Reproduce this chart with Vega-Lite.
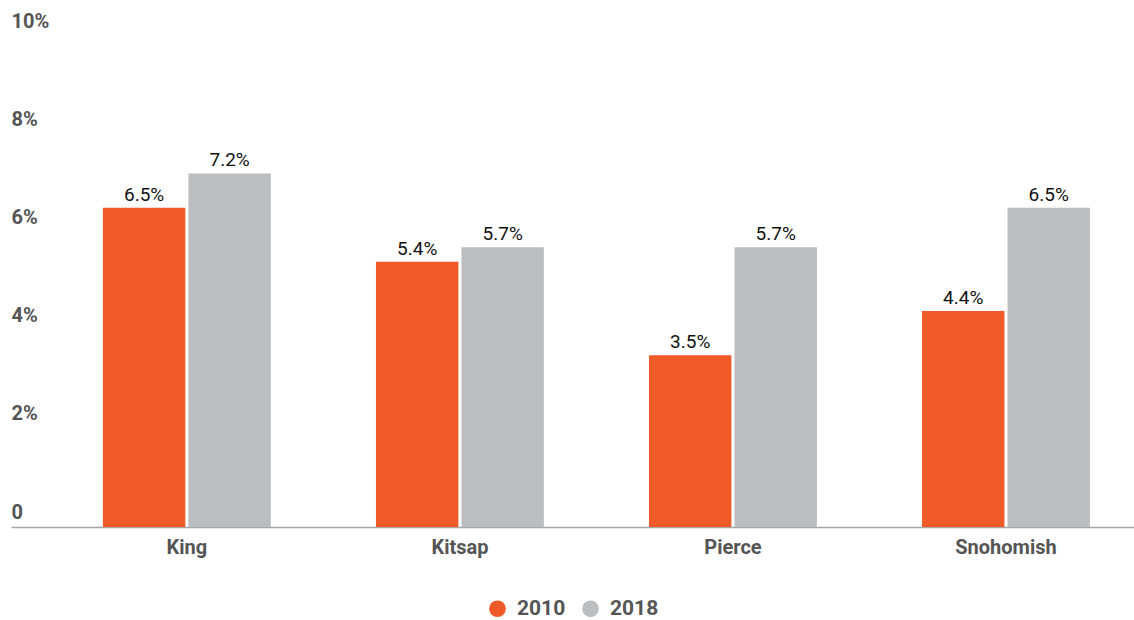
{
  "$schema": "https://vega.github.io/schema/vega-lite/v6.json",
  "width": 1123,
  "height": 491,
  "autosize": {"type": "none"},
  "padding": {"left": 11, "top": 36, "right": 0, "bottom": 93},
  "background": "white",
  "config": {
    "view": {"stroke": null},
    "font": "Roboto"
  },
  "data": {
    "values": [
      {"county": "King", "year": "2010", "value": 6.5},
      {"county": "King", "year": "2018", "value": 7.2},
      {"county": "Kitsap", "year": "2010", "value": 5.4},
      {"county": "Kitsap", "year": "2018", "value": 5.7},
      {"county": "Pierce", "year": "2010", "value": 3.5},
      {"county": "Pierce", "year": "2018", "value": 5.7},
      {"county": "Snohomish", "year": "2010", "value": 4.4},
      {"county": "Snohomish", "year": "2018", "value": 6.5}
    ]
  },
  "transform": [
    {"calculate": "format(datum.value, '.1f') + '%'", "as": "label"}
  ],
  "encoding": {
    "x": {
      "field": "county",
      "type": "nominal",
      "sort": null,
      "scale": {"paddingInner": 0.385, "paddingOuter": 0.249, "align": 0.676},
      "axis": {
        "title": null,
        "labelAngle": 0,
        "ticks": false,
        "labelPadding": 10,
        "labelFont": "Roboto",
        "labelFontWeight": "bold",
        "labelFontSize": 20,
        "labelColor": "#555555",
        "domainColor": "#a6a6a6",
        "domainWidth": 1.5
      }
    },
    "xOffset": {"field": "year", "type": "nominal", "scale": {"paddingInner": 0.036}},
    "y": {
      "field": "value",
      "type": "quantitative",
      "scale": {"domain": [0, 10], "nice": false},
      "axis": {
        "title": null,
        "values": [0, 2, 4, 6, 8, 10],
        "labelExpr": "datum.value == 0 ? '0' : datum.value + '%'",
        "grid": false,
        "domain": false,
        "ticks": false,
        "tickSize": 0,
        "labelPadding": 0,
        "labelAlign": "left",
        "labelBaseline": "alphabetic",
        "labelOffset": -9,
        "labelFont": "Roboto",
        "labelFontWeight": "bold",
        "labelFontSize": 20,
        "labelColor": "#555555"
      }
    },
    "color": {
      "field": "year",
      "type": "nominal",
      "scale": {"domain": ["2010", "2018"], "range": ["#F05A28", "#BCBDC0"]},
      "legend": {
        "title": null,
        "orient": "none",
        "legendX": 476,
        "legendY": 562,
        "direction": "horizontal",
        "symbolType": "circle",
        "symbolSize": 280,
        "symbolStrokeWidth": 0,
        "symbolOpacity": 1,
        "labelFont": "Roboto",
        "labelFontWeight": "bold",
        "labelFontSize": 21,
        "labelColor": "#555555",
        "labelOffset": 9,
        "columnPadding": 14
      }
    }
  },
  "layer": [
    {"mark": {"type": "bar", "opacity": 1}},
    {
      "mark": {"type": "text", "dy": -7, "baseline": "alphabetic", "font": "Roboto", "fontSize": 19, "color": "#111111"},
      "encoding": {
        "text": {"field": "label", "type": "nominal"},
        "color": {"value": "#111111"}
      }
    }
  ]
}
